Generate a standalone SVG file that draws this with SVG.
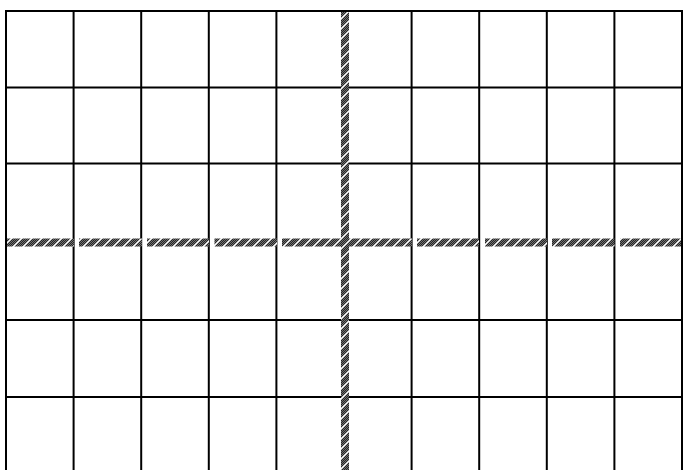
<svg xmlns="http://www.w3.org/2000/svg" width="683" height="470" viewBox="0 0 683 470">
<style>
.grid line { stroke: #000; stroke-width: 2; }
.axis { fill: url(#hatch); }
</style>
<defs>
<pattern id="checker" width="2" height="2" patternUnits="userSpaceOnUse">
<rect width="2" height="2" fill="#262626"/>
<rect width="1" height="1" fill="#707070"/>
<rect x="1" y="1" width="1" height="1" fill="#707070"/>
</pattern>
<pattern id="hatch" width="10" height="10" patternUnits="userSpaceOnUse">
<rect width="10" height="10" fill="url(#checker)"/>
<path d="M-2,12 L12,-2 M-2,2 L2,-2 M8,12 L12,8" stroke="#fff" stroke-width="1.4"/>
</pattern>
</defs>
<rect width="683" height="470" fill="#fff"/>
<g id="grid" class="grid">
<line x1="5" y1="11" x2="683" y2="11"/>
<line x1="6" y1="87.5" x2="682" y2="87.5"/>
<line x1="6" y1="163.5" x2="682" y2="163.5"/>
<line x1="6" y1="320" x2="682" y2="320"/>
<line x1="6" y1="397" x2="682" y2="397"/>
<line x1="6" y1="10" x2="6" y2="470"/>
<line x1="73.6" y1="11" x2="73.6" y2="470"/>
<line x1="141.2" y1="11" x2="141.2" y2="470"/>
<line x1="208.8" y1="11" x2="208.8" y2="470"/>
<line x1="276.4" y1="11" x2="276.4" y2="470"/>
<line x1="411.6" y1="11" x2="411.6" y2="470"/>
<line x1="479.2" y1="11" x2="479.2" y2="470"/>
<line x1="546.8" y1="11" x2="546.8" y2="470"/>
<line x1="614.4" y1="11" x2="614.4" y2="470"/>
<line x1="682" y1="10" x2="682" y2="470"/>
</g>
<g id="x-axis">
<rect class="axis" x="7" y="238.5" width="67" height="8"/>
<rect class="axis" x="79" y="238.5" width="63" height="8"/>
<rect class="axis" x="147" y="238.5" width="62" height="8"/>
<rect class="axis" x="214.5" y="238.5" width="62.5" height="8"/>
<rect class="axis" x="282" y="238.5" width="63" height="8"/>
<rect class="axis" x="349" y="238.5" width="63" height="8"/>
<rect class="axis" x="417" y="238.5" width="62" height="8"/>
<rect class="axis" x="485" y="238.5" width="62" height="8"/>
<rect class="axis" x="552" y="238.5" width="62.5" height="8"/>
<rect class="axis" x="620" y="238.5" width="61" height="8"/>
</g>
<g id="y-axis">
<rect class="axis" x="341" y="12" width="8" height="458"/>
</g>
</svg>
